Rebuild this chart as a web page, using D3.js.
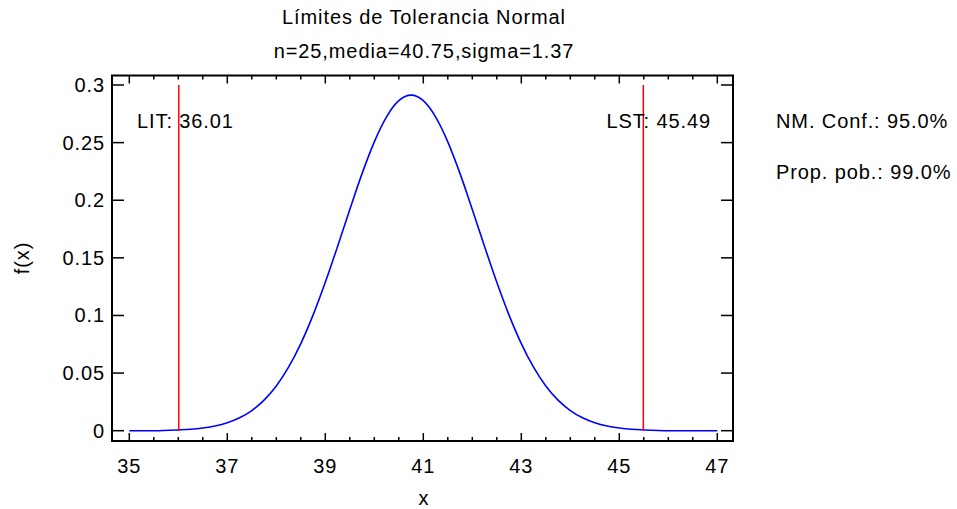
<!DOCTYPE html>
<html><head><meta charset="utf-8">
<script src="https://cdn.jsdelivr.net/npm/d3@7"></script>
<style>
html,body{margin:0;padding:0;background:#fff;}
text{font-family:Arial,"Liberation Sans",sans-serif;fill:#000;letter-spacing:0.9px;}
</style></head>
<body>
<svg id="chart" width="957" height="509"></svg>
<script>
// ---- data ----
const titleText = "Límites de Tolerancia Normal";
const subtitleText = "n=25,media=40.75,sigma=1.37";
const xTicks = [35, 37, 39, 41, 43, 45, 47];
const yTicks = [0, 0.05, 0.1, 0.15, 0.2, 0.25, 0.3];
const yTickLabels = ["0", "0.05", "0.1", "0.15", "0.2", "0.25", "0.3"];
const curveX = [35, 35.5, 36, 36.25, 36.5, 36.75, 37, 37.25, 37.5, 37.75, 38, 38.25, 38.5, 38.75,
  39, 39.25, 39.5, 39.75, 40, 40.25, 40.5, 40.75, 41, 41.25, 41.5, 41.75, 42, 42.25, 42.5, 42.75,
  43, 43.25, 43.5, 43.75, 44, 44.25, 44.5, 44.75, 45, 45.25, 45.5, 46, 46.5, 47];
const curveY = [0, 0, 0.0007, 0.0013, 0.0024, 0.0041, 0.0069, 0.0112, 0.0175, 0.0265, 0.0388, 0.0551, 0.0756, 0.1003,
  0.1288, 0.1599, 0.1920, 0.2231, 0.2507, 0.2724, 0.2864, 0.2912, 0.2864, 0.2724, 0.2507, 0.2231, 0.1920, 0.1599, 0.1288, 0.1003,
  0.0756, 0.0551, 0.0388, 0.0265, 0.0175, 0.0112, 0.0069, 0.0041, 0.0024, 0.0013, 0.0007, 0, 0, 0];
const limitNames = ["LIT: 36.01", "LST: 45.49"];
const limitValues = [36.01, 45.49];
const sideLabels = ["NM. Conf.: 95.0%", "Prop. pob.: 99.0%"];
const xLabel = "x";
const yLabel = "f(x)";

// ---- layout ----
const svg = d3.select("#chart");
const L = 112, R = 733, T = 75.5, B = 441;
const x = d3.scaleLinear().domain([35, 47]).range([129.3, 717.3]);
const y = d3.scaleLinear().domain([0, 0.3]).range([430.7, 85]);
const FS = 20;

// frame
svg.append("rect").attr("x", L).attr("y", T).attr("width", R - L).attr("height", B - T)
  .attr("fill", "none").attr("stroke", "#000").attr("stroke-width", 2);

// x ticks (major + minor), bottom and top, inward
const xMinor = d3.range(35, 47.01, 0.5).filter(v => !xTicks.includes(v));
const gx = svg.append("g").attr("stroke", "#000").attr("stroke-width", 1.5);
xTicks.forEach(v => {
  gx.append("line").attr("x1", x(v)).attr("x2", x(v)).attr("y1", B).attr("y2", B - 8);
  gx.append("line").attr("x1", x(v)).attr("x2", x(v)).attr("y1", T).attr("y2", T + 8);
});
xMinor.forEach(v => {
  gx.append("line").attr("x1", x(v)).attr("x2", x(v)).attr("y1", B).attr("y2", B - 4);
  gx.append("line").attr("x1", x(v)).attr("x2", x(v)).attr("y1", T).attr("y2", T + 4);
});
// y ticks left and right
yTicks.forEach(v => {
  gx.append("line").attr("x1", L).attr("x2", L + 12).attr("y1", y(v)).attr("y2", y(v));
  gx.append("line").attr("x1", R).attr("x2", R - 12).attr("y1", y(v)).attr("y2", y(v));
});

// tick labels
svg.append("g").selectAll("text").data(xTicks).join("text")
  .attr("x", d => x(d)).attr("y", 473).attr("text-anchor", "middle")
  .attr("font-size", FS).text(d => d);
svg.append("g").selectAll("text").data(yTicks).join("text")
  .attr("x", 105).attr("y", d => y(d) + 7).attr("text-anchor", "end")
  .attr("font-size", FS).text((d, i) => yTickLabels[i]);

// axis titles
svg.append("text").attr("x", 424).attr("y", 505).attr("text-anchor", "middle")
  .attr("font-size", FS).text(xLabel);
svg.append("text").attr("transform", "translate(29,258) rotate(-90)").attr("text-anchor", "middle")
  .attr("font-size", FS).text(yLabel);

// title
svg.append("text").attr("x", 424).attr("y", 24).attr("text-anchor", "middle")
  .attr("font-size", FS).text(titleText);
svg.append("text").attr("x", 424).attr("y", 58).attr("text-anchor", "middle")
  .attr("font-size", FS).text(subtitleText);

// curve
const line = d3.line().x((d, i) => x(curveX[i])).y(d => y(d)).curve(d3.curveMonotoneX);
svg.append("path").attr("d", line(curveY)).attr("fill", "none")
  .attr("stroke", "#0000ff").attr("stroke-width", 1.6);

// limit lines
svg.append("g").selectAll("line").data(limitValues).join("line")
  .attr("x1", d => x(d)).attr("x2", d => x(d)).attr("y1", y(0.3)).attr("y2", y(0))
  .attr("stroke", "#ff0000").attr("stroke-width", 1.5);

// limit labels
svg.append("text").attr("x", 137).attr("y", 128).attr("font-size", FS).text(limitNames[0]);
svg.append("text").attr("x", 711).attr("y", 128).attr("text-anchor", "end").attr("font-size", FS).text(limitNames[1]);

// side labels
svg.append("g").selectAll("text").data(sideLabels).join("text")
  .attr("x", 776).attr("y", (d, i) => 128 + i * 51).attr("font-size", FS).text(d => d);
</script>
</body></html>
